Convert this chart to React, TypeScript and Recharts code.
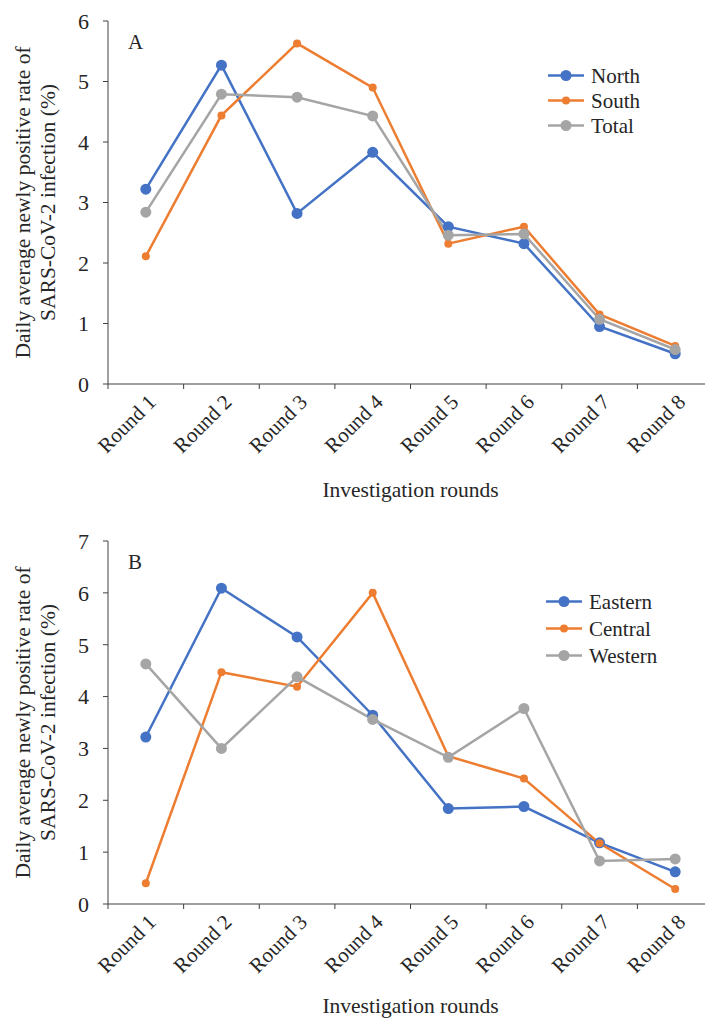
import { LineChart, Line, XAxis, YAxis, Legend, Label } from "recharts";

const rounds = ["Round 1", "Round 2", "Round 3", "Round 4", "Round 5", "Round 6", "Round 7", "Round 8"];

const north = [3.22, 5.27, 2.82, 3.83, 2.6, 2.32, 0.95, 0.5];
const south = [2.11, 4.44, 5.63, 4.9, 2.32, 2.6, 1.15, 0.63];
const total = [2.84, 4.79, 4.74, 4.43, 2.46, 2.48, 1.07, 0.57];

const eastern = [3.22, 6.09, 5.15, 3.64, 1.84, 1.88, 1.18, 0.62];
const central = [0.4, 4.47, 4.19, 6.0, 2.85, 2.42, 1.17, 0.29];
const western = [4.63, 3.0, 4.38, 3.56, 2.83, 3.77, 0.83, 0.87];

const ticksA = [0, 1, 2, 3, 4, 5, 6];
const ticksB = [0, 1, 2, 3, 4, 5, 6, 7];

const BLUE = "#4472C4";
const ORANGE = "#ED7D31";
const GRAY = "#A5A5A5";
const FONT = "'Liberation Serif', 'Times New Roman', serif";
const AXIS = "#404040";
const TEXT = "#262626";

const dataA = rounds.map((r, i) => ({ round: r, North: north[i], South: south[i], Total: total[i] }));
const dataB = rounds.map((r, i) => ({ round: r, Eastern: eastern[i], Central: central[i], Western: western[i] }));

// tick marks sit on the category boundaries, labels hang off the centres
const RoundTick = ({ x, y, payload }: any) => {
  const half = payload.offset || 605 / 16;
  const tx = x + 1;
  const ty = y + 9;
  return (
    <g>
      <line x1={x - half} x2={x - half} y1={y} y2={y + 5} stroke={AXIS} />
      <text
        x={tx}
        y={ty}
        transform={`rotate(-45 ${tx} ${ty})`}
        textAnchor="end"
        dy="0.7em"
        fontFamily={FONT}
        fontSize={21}
        fill={TEXT}
      >
        {payload.value}
      </text>
    </g>
  );
};

const YTitle = ({ viewBox }: any) => {
  const cy = viewBox.y + viewBox.height / 2;
  return (
    <g fontFamily={FONT} fontSize={21.5} fill={TEXT} textAnchor="middle">
      <text x={23} y={cy} transform={`rotate(-90 23 ${cy})`} dominantBaseline="central">
        Daily average newly positive rate of
      </text>
      <text x={48} y={cy} transform={`rotate(-90 48 ${cy})`} dominantBaseline="central">
        SARS-CoV-2 infection (%)
      </text>
    </g>
  );
};

const radius: Record<string, number> = { North: 5.5, South: 4, Total: 5.5, Eastern: 5.5, Central: 4, Western: 5.5 };

const makeLegend = (gap: number, keys: string[]) => ({ payload }: any) => {
  const items = keys.map((k) => payload.find((p: any) => p.value === k)).filter(Boolean);
  return (
    <svg width={140} height={gap * 3}>
      {items.map((p: any, i: number) => {
        const cy = gap / 2 + i * gap;
        return (
          <g key={p.value}>
            <line x1={0} x2={36} y1={cy} y2={cy} stroke={p.color} strokeWidth={2.5} />
            <circle cx={18} cy={cy} r={radius[p.value]} fill={p.color} />
            <text x={43} y={cy} dominantBaseline="central" fontFamily={FONT} fontSize={21} fill={TEXT}>
              {p.value}
            </text>
          </g>
        );
      })}
    </svg>
  );
};

function Panel({ data, keys, colors, ticks, letter, legendTop, legendLeft, gap, titleOffset }: any) {
  return (
    <LineChart width={720} height={520} data={data} margin={{ top: 21, right: 7, left: 0, bottom: 0 }}>
      <XAxis
        dataKey="round"
        scale="band"
        height={136}
        stroke={AXIS}
        tickLine={false}
        tickSize={0}
        tickMargin={0}
        tick={<RoundTick />}
        interval={0}
      >
        <Label
          value="Investigation rounds"
          position="insideBottom"
          offset={titleOffset}
          style={{ fontFamily: FONT, fontSize: 21.5, fill: TEXT }}
        />
      </XAxis>
      <YAxis
        width={108}
        domain={[0, ticks[ticks.length - 1]]}
        ticks={ticks}
        stroke={AXIS}
        tickSize={5}
        tickMargin={14}
        tick={{ fontFamily: FONT, fontSize: 22, fill: TEXT }}
      >
        <Label content={<YTitle />} />
      </YAxis>
      <Legend
        layout="vertical"
        verticalAlign="middle"
        align="center"
        wrapperStyle={{ top: legendTop, left: legendLeft, width: 140 }}
        content={makeLegend(gap, keys)}
      />
      {keys.map((k: string, i: number) => (
        <Line
          key={k}
          dataKey={k}
          stroke={colors[i]}
          strokeWidth={2.5}
          dot={{ r: radius[k], fill: colors[i], stroke: "none" }}
          activeDot={false}
          isAnimationActive={false}
        />
      ))}
      <text x={128} y={42} dominantBaseline="central" fontFamily={FONT} fontSize={21} fill={TEXT}>
        {letter}
      </text>
    </LineChart>
  );
}

export default function App() {
  return (
    <div
      style={{
        position: "absolute",
        left: 0,
        top: 0,
        width: 705,
        height: 1019,
        overflow: "hidden",
        background: "#fff",
      }}
    >
      <div style={{ position: "absolute", top: 0, left: 0 }}>
        <Panel
          data={dataA}
          keys={["North", "South", "Total"]}
          colors={[BLUE, ORANGE, GRAY]}
          ticks={ticksA}
          letter="A"
          legendTop={62.5}
          legendLeft={548}
          gap={25}
          titleOffset={23}
        />
      </div>
      <div style={{ position: "absolute", top: 520, left: 0 }}>
        <Panel
          data={dataB}
          keys={["Eastern", "Central", "Western"]}
          colors={[BLUE, ORANGE, GRAY]}
          ticks={ticksB}
          letter="B"
          legendTop={67.5}
          legendLeft={546}
          gap={27}
          titleOffset={27}
        />
      </div>
    </div>
  );
}
